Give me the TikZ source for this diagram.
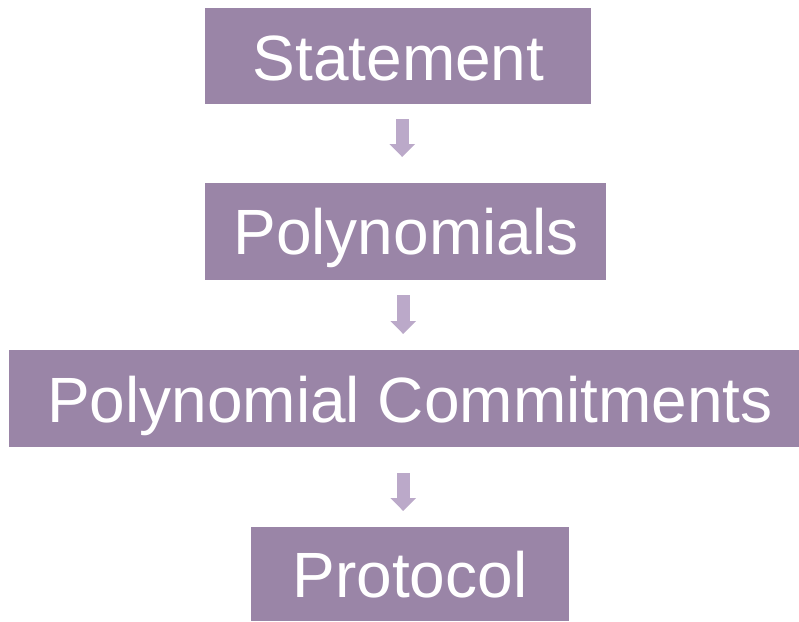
\documentclass[tikz,border=0pt]{standalone}
\usepackage{fontspec}
\setmainfont{Liberation Sans}
\usetikzlibrary{arrows.meta,calc}
\definecolor{boxc}{RGB}{154,133,167}
\definecolor{arrc}{RGB}{187,169,201}
\begin{document}
\begin{tikzpicture}[x=1pt,y=-1pt,
  box/.style={fill=boxc, draw=none, inner sep=0pt, anchor=north west},
  lbl/.style={text=white, font=\fontsize{64}{64}\selectfont, text height=46pt, text depth=0pt, inner sep=0pt},
  flow/.style={draw=arrc, line width=13pt, -{Triangle[width=25pt,length=13pt]}}]
\useasboundingbox (0,0) rectangle (799,621);
\node[box, minimum width=386pt, minimum height=96pt] (b1) at (205,8) {};
\node[box, minimum width=401pt, minimum height=97pt] (b2) at (205,183) {};
\node[box, minimum width=790pt, minimum height=97pt] (b3) at (9,350) {};
\node[box, minimum width=318pt, minimum height=94pt] (b4) at (251,527) {};
\node[lbl] (t1) at (398.5,57) {Statement};
\node[lbl] (t2) at (406,231) {Polynomials};
\node[lbl] (t3) at (410,399) {Polynomial Commitments};
\node[lbl] (t4) at (410,574) {Protocol};
\draw[flow] ($(b1.south)+(4,15)$) -- ($(b2.north)+(-3.5,-26)$);
\draw[flow] ($(b2.south)+(-2.5,15)$) -- ($(b3.north)+(-1,-16)$);
\draw[flow] ($(b3.south)+(-1,26)$) -- ($(b4.north)+(-7,-16)$);
\end{tikzpicture}
\end{document}
